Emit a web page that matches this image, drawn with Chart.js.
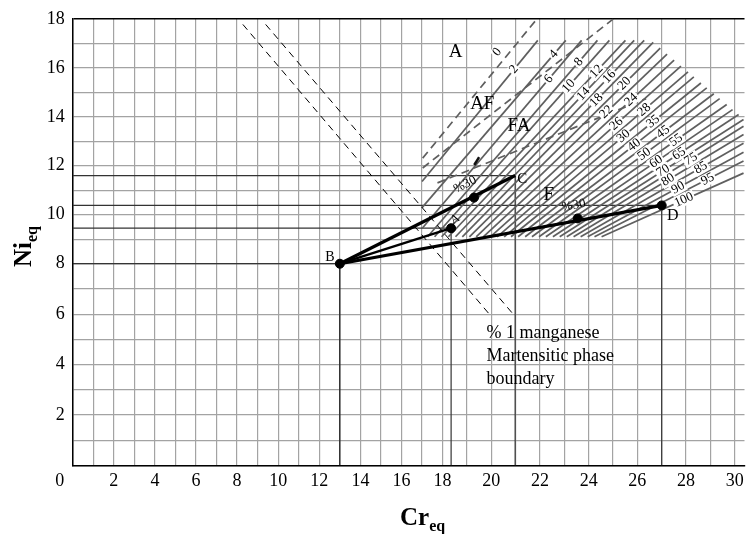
<!DOCTYPE html>
<html>
<head>
<meta charset="utf-8">
<script src="https://cdn.jsdelivr.net/npm/chart.js@4.4.1/dist/chart.umd.min.js"></script>
<style>
  html, body { margin: 0; padding: 0; background: #fff; }
  canvas { display: block; }
</style>
</head>
<body>
<canvas id="chart" width="750" height="534"></canvas>
<script>
// Puntos de composición (Cr_eq, Ni_eq)
const pointNames = ['B', 'A', 'C', 'D'];
const pointCr = [13, 18.35, 20.98, 27];
const pointNi = [8, 9.45, 11.6, 10.38];

// Puntos de dilución 30% sobre B-C y B-D
const mix30Cr = [19.29, 23.55];
const mix30Ni = [10.7, 9.85];

// Líneas de número de ferrita (FN)
const fnValues = [2, 4, 6, 8, 10, 12, 14, 16, 18, 20, 22, 24, 26, 28, 30,
                  35, 40, 45, 50, 55, 60, 65, 70, 75, 80, 85, 90, 95, 100];
const fnStartCr = [17.0, 17.0, 17.0, 17.27, 17.61, 17.95, 18.24, 18.53, 18.81, 19.10, 19.38, 19.67, 19.96, 20.24, 20.53,
                   20.81, 21.10, 21.39, 21.67, 21.96, 22.24, 22.53, 22.81, 23.10, 23.38, 23.67, 23.96, 24.24, 24.53];
const fnStartNi = [11.36, 10.29, 9.44, 9.1, 9.1, 9.1, 9.1, 9.1, 9.1, 9.1, 9.1, 9.1, 9.1, 9.1, 9.1,
                   9.1, 9.1, 9.1, 9.1, 9.1, 9.1, 9.1, 9.1, 9.1, 9.1, 9.1, 9.1, 9.1, 9.1];
const fnEndCr = [21.91, 23.06, 23.71, 24.36, 24.85, 25.51, 25.87, 26.28, 26.65, 26.94, 27.22, 27.51, 27.79, 28.08, 28.32,
                 28.61, 28.85, 29.14, 29.38, 29.67, 29.91, 30.16, 30.36, 30.36, 30.36, 30.36, 30.36, 30.36, 30.36];
const fnEndNi = [17.12, 17.12, 17.12, 17.12, 17.12, 17.12, 17.12, 17.12, 17.04, 16.8, 16.56, 16.31, 16.07, 15.83, 15.63,
                 15.38, 15.18, 14.94, 14.74, 14.50, 14.29, 14.09, 13.89, 13.61, 13.28, 12.92, 12.55, 12.19, 11.70];
const fnLabelCr = [20.93, 22.57, 22.36, 23.59, 23.18, 24.32, 23.79, 24.85, 24.32, 25.47, 24.73, 25.75, 25.14, 26.28, 25.43,
                   26.65, 25.87, 27.06, 26.28, 27.59, 26.77, 27.71, 27.06, 28.2, 27.26, 28.61, 27.67, 28.89, 27.91];

// Límites de fase (discontinuos)
const boundaryCr = [[17.03, 21.88], [17.03, 25.02], [17.75, 26.36]];
const boundaryNi = [[12.31, 18], [11.91, 18], [11.30, 14.74]];

// Límite de fase martensítica (% 1 Mn)
const martCr = [[8.28, 19.92], [9.39, 20.9]];
const martNi = [[17.77, 6.0], [17.77, 6.0]];

// Etiquetas de regiones
const regionNames = ['A', 'AF', 'FA', 'F'];
const regionCr = [18.53, 19.63, 21.14, 22.36];
const regionNi = [16.64, 14.54, 13.61, 10.82];

// La figura escaneada no es lineal: tramos del eje (valor -> fracción)
const axisBreaks = {
  x: [[0, 0], [18, 0.5506], [30.4, 1]],
  y: [[0, 0], [8, 0.4517], [18, 1]]
};

function warp(br, v) {
  let i = 1;
  while (i < br.length - 1 && v > br[i][0]) i++;
  const [v0, f0] = br[i - 1], [v1, f1] = br[i];
  return f0 + (v - v0) / (v1 - v0) * (f1 - f0);
}
function unwarp(br, f) {
  let i = 1;
  while (i < br.length - 1 && f > br[i][1]) i++;
  const [v0, f0] = br[i - 1], [v1, f1] = br[i];
  return v0 + (f - f0) / (f1 - f0) * (v1 - v0);
}

class WarpScale extends Chart.LinearScale {
  getPixelForValue(value) {
    if (value === null || value === undefined) return NaN;
    return this.getPixelForDecimal(warp(axisBreaks[this.axis], value));
  }
  getValueForPixel(pixel) {
    return unwarp(axisBreaks[this.axis], this.getDecimalForPixel(pixel));
  }
}
WarpScale.id = 'warp';
WarpScale.defaults = Chart.LinearScale.defaults;
Chart.register(WarpScale);

const serif = 'Liberation Serif';
const datasets = [];

// Líneas de referencia hacia los ejes
pointCr.forEach((cr, i) => {
  const col = i === 0 ? '#111' : '#333';
  datasets.push({ data: [{ x: 0, y: pointNi[i] }, { x: cr, y: pointNi[i] }], borderColor: col, borderWidth: 1.2, order: 6 });
  datasets.push({ data: [{ x: cr, y: 0 }, { x: cr, y: pointNi[i] }], borderColor: col, borderWidth: 1.2, order: 6 });
});

// Líneas FN
fnValues.forEach((fn, i) => {
  datasets.push({
    data: [{ x: fnStartCr[i], y: fnStartNi[i] }, { x: fnEndCr[i], y: fnEndNi[i] }],
    borderColor: '#5f5f5f', borderWidth: 1.7, order: 5
  });
});

boundaryCr.forEach((crs, i) => {
  datasets.push({
    data: [{ x: crs[0], y: boundaryNi[i][0] }, { x: crs[1], y: boundaryNi[i][1] }],
    borderColor: '#5f5f5f', borderWidth: 1.7, borderDash: [8, 5], order: 5
  });
});

// Trazo corto oscuro
datasets.push({ data: [{ x: 19.3, y: 12.03 }, { x: 19.5, y: 12.35 }], borderColor: '#111', borderWidth: 2.5, order: 4 });

martCr.forEach((crs, i) => {
  datasets.push({
    data: [{ x: crs[0], y: martNi[i][0] }, { x: crs[1], y: martNi[i][1] }],
    borderColor: '#000', borderWidth: 1, borderDash: [7, 5], order: 4
  });
});

// Líneas de mezcla desde B
[[2, 3.2], [1, 2.4], [3, 3.2]].forEach(([j, w]) => {
  datasets.push({
    data: [{ x: pointCr[0], y: pointNi[0] }, { x: pointCr[j], y: pointNi[j] }],
    borderColor: '#000', borderWidth: w, order: 1
  });
});

// Marcadores
datasets.push({
  showLine: false,
  data: [0, 1, 3].map(i => ({ x: pointCr[i], y: pointNi[i] }))
    .concat(mix30Cr.map((c, i) => ({ x: c, y: mix30Ni[i] }))),
  pointRadius: 4.5, pointBackgroundColor: '#000', pointBorderColor: '#000', order: 0
});

function textAt(ctx, str, px, py, font, angle, bg) {
  ctx.save();
  ctx.translate(px, py);
  ctx.rotate(angle || 0);
  ctx.font = font;
  ctx.textAlign = 'center';
  ctx.textBaseline = 'middle';
  if (bg) {
    const w = ctx.measureText(str).width;
    ctx.fillStyle = '#fff';
    ctx.fillRect(-w / 2 - 1.5, -6, w + 3, 12);
  }
  ctx.fillStyle = '#000';
  ctx.fillText(str, 0, 0);
  ctx.restore();
}

const annotate = {
  id: 'annotate',
  afterDatasetsDraw(chart) {
    const { ctx, chartArea } = chart;
    const xs = chart.scales.x, ys = chart.scales.y;
    const px = v => xs.getPixelForValue(v), py = v => ys.getPixelForValue(v);

    // Etiquetas FN sobre sus líneas
    fnValues.forEach((fn, i) => {
      const sx = px(fnStartCr[i]), sy = py(fnStartNi[i]);
      const ex = px(fnEndCr[i]), ey = py(fnEndNi[i]);
      const lx = px(fnLabelCr[i]);
      const ly = sy + (lx - sx) / (ex - sx) * (ey - sy);
      textAt(ctx, String(fn), lx, ly, `13px "${serif}"`, Math.atan2(ey - sy, ex - sx), true);
    });
    const b0x = px(boundaryCr[0][0]), b0y = py(boundaryNi[0][0]);
    const b1x = px(boundaryCr[0][1]), b1y = py(boundaryNi[0][1]);
    textAt(ctx, '0', px(20.24), py(16.64), `13px "${serif}"`, Math.atan2(b1y - b0y, b1x - b0x), true);

    regionNames.forEach((n, i) => textAt(ctx, n, px(regionCr[i]), py(regionNi[i]), `19px "${serif}"`));

    // Etiquetas de puntos
    const bx = px(pointCr[0]), by = py(pointNi[0]);
    textAt(ctx, 'B', bx - 10, by - 6, `14px "${serif}"`);
    textAt(ctx, 'A', px(pointCr[1]) + 4, py(pointNi[1]) - 9, `12px "${serif}"`, -0.5);
    textAt(ctx, 'C', px(pointCr[2]) + 7, py(pointNi[2]) + 4, `15px "${serif}"`);
    textAt(ctx, 'D', px(pointCr[3]) + 11, py(pointNi[3]) + 10, `16px "${serif}"`);

    const angC = Math.atan2(py(pointNi[2]) - by, px(pointCr[2]) - bx);
    const angD = Math.atan2(py(pointNi[3]) - by, px(pointCr[3]) - bx);
    textAt(ctx, '%30', px(mix30Cr[0]) - 9, py(mix30Ni[0]) - 13, `13px "${serif}"`, angC);
    textAt(ctx, '%30', px(mix30Cr[1]) - 4, py(mix30Ni[1]) - 13, `13px "${serif}"`, angD);

    // Nota del límite martensítico
    ctx.save();
    ctx.font = `18px "${serif}"`;
    ctx.fillStyle = '#000';
    ctx.textAlign = 'left';
    ctx.textBaseline = 'alphabetic';
    const nx = px(19.8), ny = py(5.04);
    ['% 1 manganese', 'Martensitic phase', 'boundary'].forEach((t, k) => ctx.fillText(t, nx, ny + k * 23));

    // Origen "0"
    ctx.textAlign = 'center';
    ctx.textBaseline = 'middle';
    ctx.fillText('0', chartArea.left - 13, chartArea.bottom + 16);

    // Títulos de ejes con subíndice
    ctx.textAlign = 'left';
    ctx.textBaseline = 'alphabetic';
    ctx.font = `bold 25px "${serif}"`;
    ctx.fillText('Cr', 400, 525);
    const wCr = ctx.measureText('Cr').width;
    ctx.font = `bold 16px "${serif}"`;
    ctx.fillText('eq', 400 + wCr, 531);

    ctx.translate(31, 267);
    ctx.rotate(-Math.PI / 2);
    ctx.font = `bold 25px "${serif}"`;
    ctx.fillText('Ni', 0, 0);
    const wNi = ctx.measureText('Ni').width;
    ctx.font = `bold 16px "${serif}"`;
    ctx.fillText('eq', wNi, 6);
    ctx.restore();
  }
};

const tickFont = { family: serif, size: 18 };
const evenLabel = v => (v > 0 && v % 2 === 0) ? v : '';

new Chart(document.getElementById('chart'), {
  type: 'scatter',
  data: { datasets },
  options: {
    responsive: false,
    animation: false,
    events: [],
    layout: { padding: { top: 14.3, right: 1, left: 0, bottom: 0 } },
    datasets: {
      scatter: { showLine: true, pointRadius: 0, pointHoverRadius: 0, fill: false, tension: 0 }
    },
    plugins: { legend: { display: false }, tooltip: { enabled: false } },
    scales: {
      x: {
        type: 'warp', min: 0, max: 30.4,
        afterFit: s => { s.height = 68.5; },
        grid: { color: '#a3a3a3', lineWidth: 1.2, drawTicks: false },
        border: { color: '#000', width: 1.5 },
        ticks: { stepSize: 1, autoSkip: false, includeBounds: false, maxRotation: 0, padding: 5, color: '#000', font: tickFont, callback: evenLabel }
      },
      y: {
        type: 'warp', min: 0, max: 18,
        afterFit: s => { s.width = 72.7; },
        grid: { color: c => (c.tick && c.tick.value === 18) ? '#000' : '#a3a3a3', lineWidth: c => (c.tick && c.tick.value === 18) ? 1.5 : 1.2, drawTicks: false },
        border: { color: '#000', width: 1.5 },
        ticks: { stepSize: 1, autoSkip: false, padding: 8, color: '#000', font: tickFont, callback: evenLabel }
      }
    }
  },
  plugins: [annotate]
});
</script>
</body>
</html>
